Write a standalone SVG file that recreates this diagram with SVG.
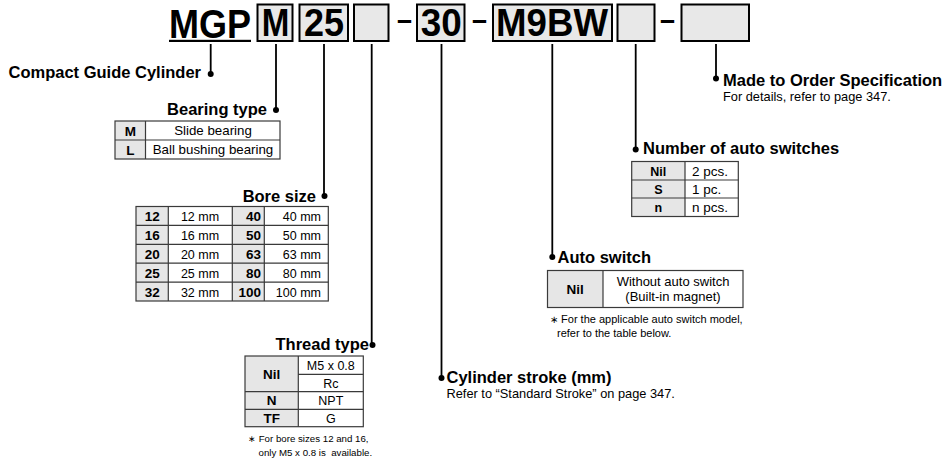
<svg xmlns="http://www.w3.org/2000/svg" width="950" height="469" viewBox="0 0 950 469">
<style>
text{font-family:"Liberation Sans",Arial,Helvetica,sans-serif;fill:#000}
.hdr{font-weight:bold;font-size:39.5px}
.dash{font-weight:bold;font-size:31px}
.mgp{font-weight:bold;font-size:41px}
.t{font-weight:bold;font-size:16.5px}
.lb{font-weight:bold;font-size:13.5px;text-anchor:middle}
.v{font-size:12.5px;text-anchor:middle}
.n{font-size:11px}
.n2{font-size:12.8px}
.n3{font-size:9.7px;white-space:pre}
.ast{font-size:10px}
.box{fill:#e8e8e8;stroke:#000;stroke-width:2}
.g{fill:#e6e6e6;stroke:none}
.tb{fill:none;stroke:#3a3a3a;stroke-width:1.2}
.ln{stroke:#3a3a3a;stroke-width:1.2}
.c{stroke:#000;stroke-width:1.8;fill:none}
.d{fill:#000}
</style>
<rect width="950" height="469" fill="#fff"/>

<g id="model-code">
  <text class="mgp" x="169" y="37.5" textLength="82" lengthAdjust="spacingAndGlyphs">MGP</text>
  <rect x="169" y="39.8" width="82" height="2.2" fill="#000"/>
  <rect class="box" x="257.5" y="4.5" width="35" height="36.5"/>
  <text class="hdr" x="261.7" y="36" textLength="27.6" lengthAdjust="spacingAndGlyphs">M</text>
  <rect class="box" x="299.5" y="4.5" width="48.5" height="36.5"/>
  <text class="hdr" x="304" y="36" textLength="40" lengthAdjust="spacingAndGlyphs">25</text>
  <rect class="box" x="354" y="4.5" width="34.5" height="36.5"/>
  <text class="dash" x="397" y="29.6" textLength="15" lengthAdjust="spacingAndGlyphs">–</text>
  <rect class="box" x="417" y="4.5" width="47.5" height="36.5"/>
  <text class="hdr" x="420.7" y="36" textLength="41" lengthAdjust="spacingAndGlyphs">30</text>
  <text class="dash" x="472" y="29.6" textLength="15" lengthAdjust="spacingAndGlyphs">–</text>
  <rect class="box" x="493" y="4.5" width="119" height="36.5"/>
  <text class="hdr" x="496" y="36" textLength="112" lengthAdjust="spacingAndGlyphs">M9BW</text>
  <rect class="box" x="617.5" y="4.5" width="37" height="36.5"/>
  <text class="dash" x="660" y="29.6" textLength="15" lengthAdjust="spacingAndGlyphs">–</text>
  <rect class="box" x="681.5" y="4.5" width="67.5" height="36.5"/>
</g>

<g id="connectors">
  <path class="c" d="M210.7 44V74 M276 44V110 M324 44V196 M371.7 44V345 M441.5 44V378 M552.3 44V257 M635.7 44V149.5 M716 44V78.5"/>
  <circle class="d" cx="210.7" cy="74" r="3"/>
  <circle class="d" cx="276" cy="110" r="3"/>
  <circle class="d" cx="324.5" cy="196" r="3"/>
  <circle class="d" cx="372.5" cy="345" r="3"/>
  <circle class="d" cx="441.5" cy="378" r="3"/>
  <circle class="d" cx="552.3" cy="257" r="3"/>
  <circle class="d" cx="635.7" cy="149.5" r="3"/>
  <circle class="d" cx="716" cy="78.5" r="3"/>
</g>

<g id="compact-guide-cylinder">
  <text class="t" x="201" y="77.5" text-anchor="end">Compact Guide Cylinder</text>
</g>

<g id="bearing-type">
  <text class="t" x="267" y="115" text-anchor="end">Bearing type</text>
  <rect class="g" x="115" y="121" width="30.5" height="38"/>
  <rect class="tb" x="115" y="121" width="165" height="38"/>
  <path class="ln" d="M145.5 121V159 M115 140H280"/>
  <text class="lb" x="130.3" y="135.5">M</text>
  <text class="v" x="213" y="135" style="font-size:13.3px">Slide bearing</text>
  <text class="lb" x="130.3" y="154.5">L</text>
  <text class="v" x="213" y="154" style="font-size:13.3px">Ball bushing bearing</text>
</g>

<g id="bore-size">
  <text class="t" x="316" y="201.5" text-anchor="end">Bore size</text>
  <rect class="g" x="136" y="206.5" width="32.3" height="94.5"/>
  <rect class="g" x="232.3" y="206.5" width="32" height="94.5"/>
  <rect class="tb" x="136" y="206.5" width="192.3" height="94.5"/>
  <path class="ln" d="M168.3 206.5V301 M232.3 206.5V301 M264.3 206.5V301 M136 225.4H328.3 M136 244.3H328.3 M136 263.2H328.3 M136 282.1H328.3"/>
  <text class="lb" x="152.2" y="221">12</text><text class="v" x="200" y="221">12 mm</text>
  <text class="lb" x="261" y="221" style="text-anchor:end">40</text><text class="v" x="321" y="221" style="text-anchor:end">40 mm</text>
  <text class="lb" x="152.2" y="240">16</text><text class="v" x="200" y="240">16 mm</text>
  <text class="lb" x="261" y="240" style="text-anchor:end">50</text><text class="v" x="321" y="240" style="text-anchor:end">50 mm</text>
  <text class="lb" x="152.2" y="258.8">20</text><text class="v" x="200" y="258.8">20 mm</text>
  <text class="lb" x="261" y="258.8" style="text-anchor:end">63</text><text class="v" x="321" y="258.8" style="text-anchor:end">63 mm</text>
  <text class="lb" x="152.2" y="277.7">25</text><text class="v" x="200" y="277.7">25 mm</text>
  <text class="lb" x="261" y="277.7" style="text-anchor:end">80</text><text class="v" x="321" y="277.7" style="text-anchor:end">80 mm</text>
  <text class="lb" x="152.2" y="296.6">32</text><text class="v" x="200" y="296.6">32 mm</text>
  <text class="lb" x="261" y="296.6" style="text-anchor:end">100</text><text class="v" x="321" y="296.6" style="text-anchor:end">100 mm</text>
</g>

<g id="thread-type">
  <text class="t" x="369" y="350" text-anchor="end">Thread type</text>
  <rect class="g" x="245" y="356" width="53.3" height="70.7"/>
  <rect class="tb" x="245" y="356" width="118.3" height="70.7"/>
  <path class="ln" d="M298.3 356V426.7 M298.3 374.3H363.3 M245 391.7H363.3 M245 409.3H363.3"/>
  <text class="lb" x="271.7" y="378.8">Nil</text>
  <text class="v" x="330.8" y="369.5">M5 x 0.8</text>
  <text class="v" x="330.8" y="387.5">Rc</text>
  <text class="lb" x="271.7" y="405.3">N</text>
  <text class="v" x="330.8" y="405">NPT</text>
  <text class="lb" x="271.7" y="422.7">TF</text>
  <text class="v" x="330.8" y="422.5">G</text>
  <text class="n3" x="248" y="441.5"><tspan style="font-size:9px">∗</tspan> For bore sizes 12 and 16,</text>
  <text class="n3" x="258.5" y="456">only M5 x 0.8 is  available.</text>
</g>

<g id="cylinder-stroke">
  <text class="t" x="446.5" y="383">Cylinder stroke (mm)</text>
  <text class="n2" x="446.5" y="397.5">Refer to “Standard Stroke” on page 347.</text>
</g>

<g id="auto-switch">
  <text class="t" x="557.5" y="263">Auto switch</text>
  <rect class="g" x="547.5" y="270.5" width="55.5" height="37"/>
  <rect class="tb" x="547.5" y="270.5" width="195.5" height="37"/>
  <path class="ln" d="M603 270.5V307.5"/>
  <text class="lb" x="575.2" y="293.5">Nil</text>
  <text class="v" x="673" y="286" style="font-size:13px">Without auto switch</text>
  <text class="v" x="673" y="301" style="font-size:13px">(Built-in magnet)</text>
  <text class="n" x="550" y="322.5"><tspan class="ast">∗</tspan> For the applicable auto switch model,</text>
  <text class="n" x="557" y="336.5">refer to the table below.</text>
</g>

<g id="number-of-auto-switches">
  <text class="t" x="643" y="154">Number of auto switches</text>
  <rect class="g" x="631.7" y="161.5" width="53.3" height="55"/>
  <rect class="tb" x="631.7" y="161.5" width="106.6" height="55"/>
  <path class="ln" d="M685 161.5V216.5 M631.7 180H738.3 M631.7 198H738.3"/>
  <text class="lb" x="658.3" y="175.5" style="font-size:12.5px">Nil</text>
  <text class="v" x="692" y="175.5" style="text-anchor:start;font-size:13.5px">2 pcs.</text>
  <text class="lb" x="658.3" y="193.8" style="font-size:12.5px">S</text>
  <text class="v" x="692" y="193.5" style="text-anchor:start;font-size:13.5px">1 pc.</text>
  <text class="lb" x="658.3" y="212" style="font-size:12.5px">n</text>
  <text class="v" x="692" y="212" style="text-anchor:start;font-size:13.5px">n pcs.</text>
</g>

<g id="made-to-order">
  <text class="t" x="723" y="86">Made to Order Specification</text>
  <text class="n2" x="723" y="100.5">For details, refer to page 347.</text>
</g>
</svg>
